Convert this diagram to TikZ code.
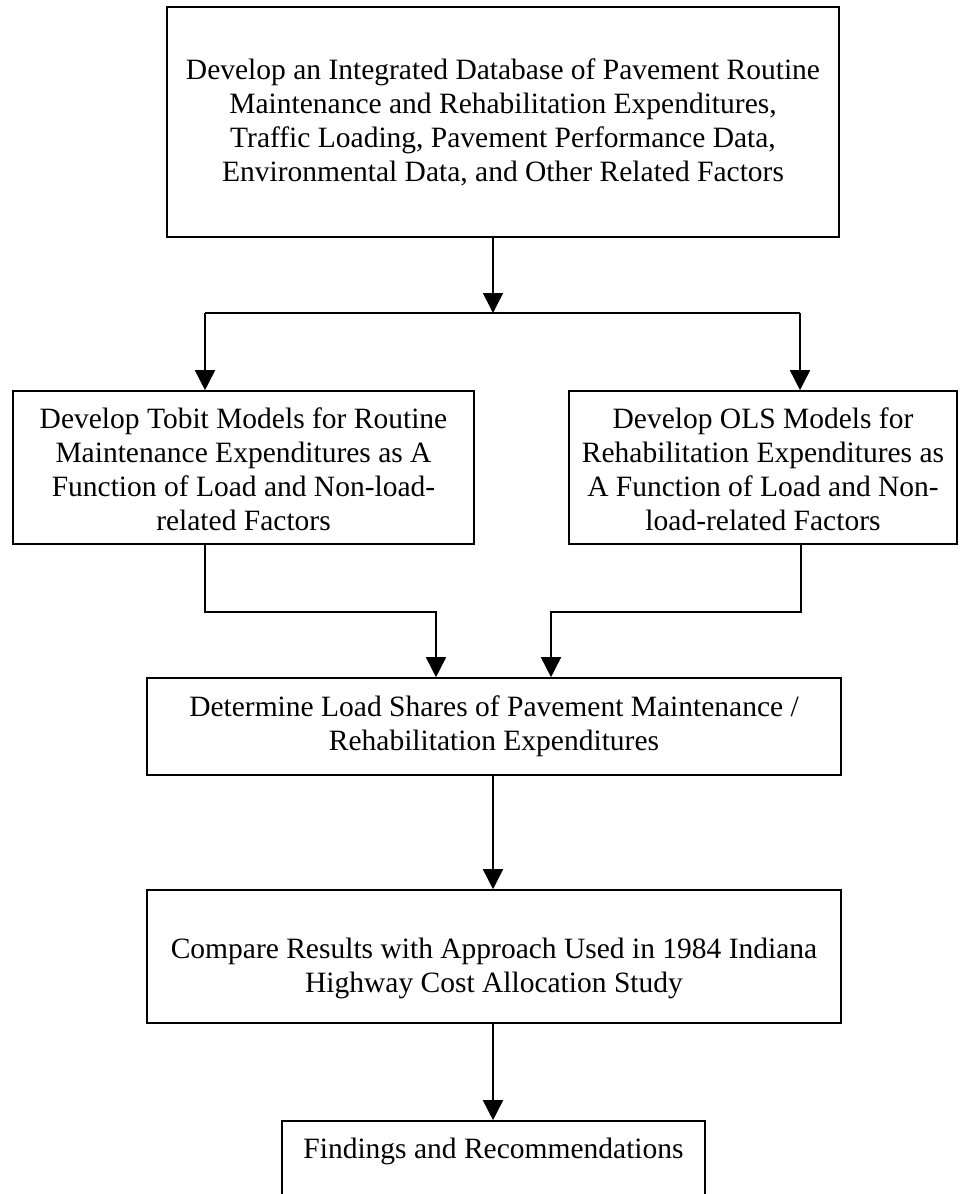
\documentclass[tikz,border=0pt]{standalone}
\usepackage{fontspec}
\setmainfont{Liberation Serif}
\usetikzlibrary{arrows.meta}
% multi-line centred text whose baseline is that of its first line
\newcommand\boxlines[1]{\begin{tabular}[t]{@{}c@{}}#1\end{tabular}}
\begin{document}
\begin{tikzpicture}[x=1pt,y=-1pt,
  stagebox/.style={draw=black, line width=1.6pt, rectangle, inner sep=0pt},
  stagetext/.style={anchor=base, inner sep=0pt, font=\fontsize{29.5}{34}\selectfont},
  conn/.style={draw=black, line width=1.6pt, -{Triangle[width=20pt,length=20pt]}},
  plain/.style={draw=black, line width=1.6pt}]
\clip (0,0) rectangle (964,1194);
\fill[white] (0,0) rectangle (964,1194);

% process boxes
\node[stagebox, minimum width=672pt, minimum height=230pt] (b1) at (503,122) {};
\node[stagebox, minimum width=461pt, minimum height=153pt] (b2) at (243.5,467.5) {};
\node[stagebox, minimum width=388pt, minimum height=153pt] (b3) at (763,467.5) {};
\node[stagebox, minimum width=694pt, minimum height=97pt] (b4) at (494,726.5) {};
\node[stagebox, minimum width=694pt, minimum height=133pt] (b5) at (494,956.5) {};
\node[stagebox, minimum width=423pt, minimum height=120pt] (b6) at (493.5,1181) {};

% box texts
\node[stagetext] (t1) at (503,79) {\boxlines{Develop an Integrated Database of Pavement Routine\\
  Maintenance and Rehabilitation Expenditures,\\
  Traffic Loading, Pavement Performance Data,\\
  Environmental Data, and Other Related Factors}};
\node[stagetext] (t2) at (243.5,428) {\boxlines{Develop Tobit Models for Routine\\
  Maintenance Expenditures as A\\
  Function of Load and Non-load-\\
  related Factors}};
\node[stagetext] (t3) at (763,428) {\boxlines{Develop OLS Models for\\
  Rehabilitation Expenditures as\\
  A Function of Load and Non-\\
  load-related Factors}};
\node[stagetext] (t4) at (494,716) {\boxlines{Determine Load Shares of Pavement Maintenance /\\
  Rehabilitation Expenditures}};
\node[stagetext] (t5) at (494,958) {\boxlines{Compare Results with Approach Used in 1984 Indiana\\
  Highway Cost Allocation Study}};
\node[stagetext] (t6) at (493.5,1158) {\boxlines{Findings and Recommendations}};

% junction points of the connectors
\coordinate (split) at (493,313);
\coordinate (lbr) at (205,313);
\coordinate (rbr) at (800,313);
\coordinate (lk) at (205,612);
\coordinate (lin) at (436,612);
\coordinate (rk) at (801,612);
\coordinate (rin) at (551,612);

% connectors
\draw[conn] (b1.south -| split) -- (split);
\draw[plain] (lbr) -- (rbr);
\draw[conn] (lbr) -- (lbr |- b2.north);
\draw[conn] (rbr) -- (rbr |- b3.north);
\draw[conn] (lk |- b2.south) -- (lk) -- (lin) -- (lin |- b4.north);
\draw[conn] (rk |- b3.south) -- (rk) -- (rin) -- (rin |- b4.north);
\draw[conn] (b4.south -| split) -- (b5.north -| split);
\draw[conn] (b5.south -| split) -- (b6.north -| split);
\end{tikzpicture}
\end{document}
